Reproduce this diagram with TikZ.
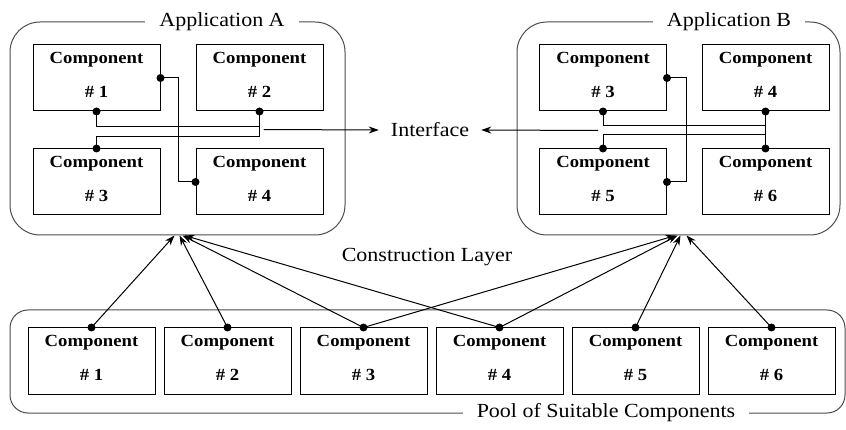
\documentclass[tikz,border=0pt]{standalone}
\usepackage{fontspec}
\setmainfont{Liberation Serif}[FakeStretch=1.1]
\usetikzlibrary{arrows.meta,calc}
\tikzset{
  comp/.style={draw=black, line width=1pt, minimum width=127pt, minimum height=66pt,
    inner sep=0pt, align=center, font=\fontsize{17}{34}\selectfont\bfseries},
  group/.style={draw=black!70, line width=1pt, inner sep=0pt},
  title/.style={fill=white, inner xsep=14pt, inner ysep=2pt, font=\fontsize{20}{24}\selectfont},
  label text/.style={font=\fontsize{20}{24}\selectfont},
  wire/.style={line width=1pt},
  feed/.style={line width=1pt, -{Stealth[length=10pt,width=7pt]}},
}
\newcommand{\joint}[1]{\fill #1 circle (4pt);}
\newcommand{\comptext}[1]{Component\\\# #1\rule[-6pt]{0pt}{6pt}}
\begin{document}
\begin{tikzpicture}[x=1pt,y=-1pt]
\useasboundingbox (0,0) rectangle (846,430);

% outer groups
\node[group, rounded corners=30pt, minimum width=335pt, minimum height=213pt] (appA) at (177.5,128.5) {};
\node[group, rounded corners=30pt, minimum width=323pt, minimum height=213pt] (appB) at (678.5,128.5) {};
\node[group, rounded corners=18pt, minimum width=835pt, minimum height=103pt] (pool) at (427.5,361.5) {};
\node[title] (tA) at (222,22) {Application A};
\node[title] (tB) at (729,22) {Application B};
\node[title] (tP) at (606,413) {Pool of Suitable Components};

% application A
\node[comp] (a1) at (96.5,78) {\comptext{1}};
\node[comp] (a2) at (259.5,78) {\comptext{2}};
\node[comp] (a3) at (96.5,182) {\comptext{3}};
\node[comp] (a4) at (259.5,182) {\comptext{4}};

% application B
\node[comp] (b3) at (603,78) {\comptext{3}};
\node[comp] (b4) at (765.5,78) {\comptext{4}};
\node[comp] (b5) at (603,182) {\comptext{5}};
\node[comp] (b6) at (765.5,182) {\comptext{6}};

% pool
\foreach \i in {1,...,6}
  {\node[comp] (p\i) at ({91.5+136*(\i-1)},361) {\comptext{\i}};}

% labels
\node[label text, inner xsep=12pt] (iface) at (430,130) {Interface};
\node[label text] (layer) at (427,257) {Construction Layer};

% wiring inside application A
\draw[wire] (a1.east) -- ++(18,0) |- (a4.west);
\draw[wire] (a1.south) -- ++(0,15) -| (a2.south);
\draw[wire] (a3.north) -- ++(0,-12) -| (a2.south);
\coordinate (ia) at ($(a2.south)+(4,18)$);
\draw[feed] (ia) -- (iface.west);
\foreach \p in {a1.east,a1.south,a2.south,a3.north,a4.west} {\joint{(\p)}}

% wiring inside application B
\draw[wire] (b3.east) -- ++(19,0) |- (b5.east);
\draw[wire] (b3.south) -- ++(0,14) -| (b4.south);
\draw[wire] (b4.south) -- (b6.north);
\draw[wire] (b5.north) -- ++(0,-14) -| (b6.north);
\coordinate (ib) at ($(b3.south)+(-5,19)$);
\draw[feed] (ib) -- (iface.east);
\foreach \p in {b3.east,b3.south,b4.south,b5.north,b5.east,b6.north} {\joint{(\p)}}

% construction layer
\draw[feed] (p1.north) -- ($(appA.south)+(-3,0)$);
\draw[feed] (p2.north) -- ($(appA.south)+(2,0)$);
\draw[feed] (p3.north) -- ($(appA.south)+(5,0)$);
\draw[feed] (p4.north) -- ($(appA.south)+(7,0)$);
\draw[feed] (p3.north) -- ($(appB.south)+(-3,0)$);
\draw[feed] (p4.north) -- ($(appB.south)+(-1,0)$);
\draw[feed] (p5.north) -- ($(appB.south)+(2,0)$);
\draw[feed] (p6.north) -- ($(appB.south)+(8,0)$);
\foreach \i in {1,...,6} {\joint{(p\i.north)}}
\end{tikzpicture}
\end{document}
